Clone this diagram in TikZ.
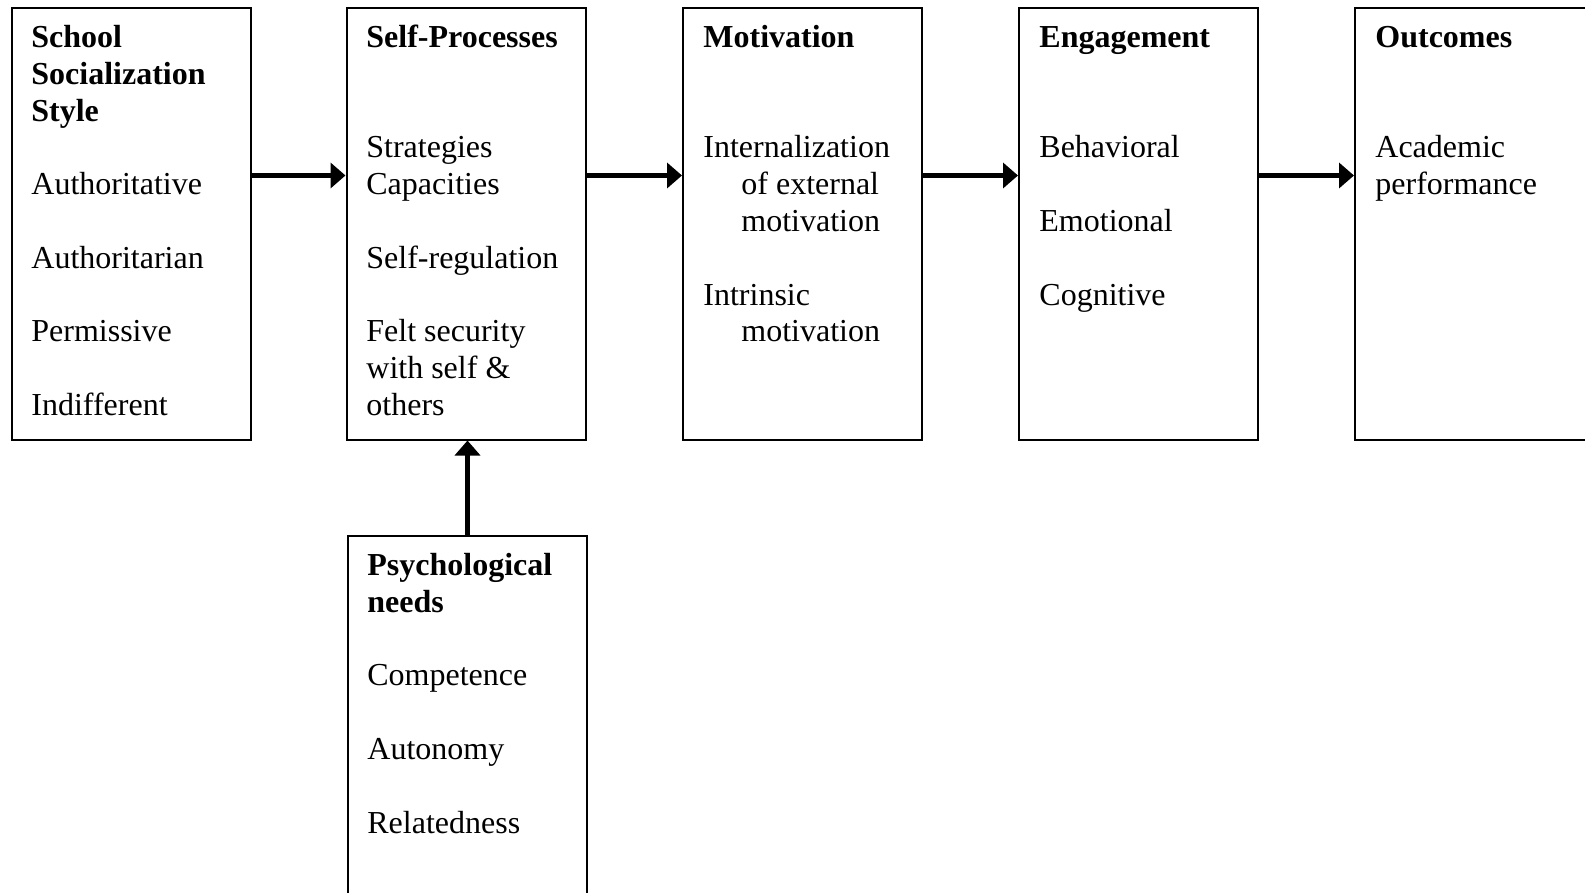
\documentclass[tikz,border=0pt]{standalone}
\usepackage{fontspec}
\setmainfont{Liberation Serif}
\usetikzlibrary{arrows.meta}
\begin{document}
\begin{tikzpicture}[x=0.5pt,y=-0.5pt,
  boxstyle/.style={draw=black,line width=1pt,rectangle,inner sep=0pt,anchor=north west,minimum width=119.5pt,minimum height=215.5pt},
  txt/.style={anchor=base west,inner sep=0pt,font=\fontsize{16pt}{18.4pt}\selectfont},
  hd/.style={txt,font=\fontsize{16pt}{18.4pt}\selectfont\bfseries},
  arr/.style={line width=2.5pt,-{Triangle[length=7.5pt,width=12.5pt]}}]
\clip (0,0) rectangle (1585,893);
\fill[white] (0,0) rectangle (1585,893);
% boxes
\node[boxstyle] (b1) at (10.5,7.5) {};
\node[boxstyle] (b2) at (345.5,7.5) {};
\node[boxstyle] (b3) at (682,7.5) {};
\node[boxstyle] (b4) at (1018,7.5) {};
\node[boxstyle] (b5) at (1354,7.5) {};
\node[boxstyle,minimum height=240pt] (p) at (347,535) {};
% box 1
\node[hd] (t1a) at (31,47.5) {School};
\node[hd] (t1b) at (31,84.3) {Socialization};
\node[hd] (t1c) at (31,121.1) {Style};
\node[txt] (t1d) at (31,194.7) {Authoritative};
\node[txt] (t1e) at (31,268.3) {Authoritarian};
\node[txt] (t1f) at (31,341.9) {Permissive};
\node[txt] (t1g) at (31,415.5) {Indifferent};
% box 2
\node[hd] (t2a) at (366,47.5) {Self-Processes};
\node[txt] (t2b) at (366,157.9) {Strategies};
\node[txt] (t2c) at (366,194.7) {Capacities};
\node[txt] (t2d) at (366,268.3) {Self-regulation};
\node[txt] (t2e) at (366,341.9) {Felt security};
\node[txt] (t2f) at (366,378.7) {with self \&};
\node[txt] (t2g) at (366,415.5) {others};
% box 3
\node[hd] (t3a) at (703,47.5) {Motivation};
\node[txt] (t3b) at (703,157.9) {Internalization};
\node[txt] (t3c) at (741,194.7) {of external};
\node[txt] (t3d) at (741,231.5) {motivation};
\node[txt] (t3e) at (703,305.1) {Intrinsic};
\node[txt] (t3f) at (741,341.9) {motivation};
% box 4
\node[hd] (t4a) at (1039,47.5) {Engagement};
\node[txt] (t4b) at (1039,157.9) {Behavioral};
\node[txt] (t4c) at (1039,231.5) {Emotional};
\node[txt] (t4d) at (1039,305.1) {Cognitive};
% box 5
\node[hd] (t5a) at (1375,47.5) {Outcomes};
\node[txt] (t5b) at (1375,157.9) {Academic};
\node[txt] (t5c) at (1375,194.7) {performance};
% psych
\node[hd] (tpa) at (367,575.5) {Psychological};
\node[hd] (tpb) at (367,612.3) {needs};
\node[txt] (tpc) at (367,685.9) {Competence};
\node[txt] (tpd) at (367,759.5) {Autonomy};
\node[txt] (tpe) at (367,833.1) {Relatedness};
% arrows
\draw[arr] ([yshift=-84pt]b1.north east) -- ([yshift=-84pt]b2.north west);
\draw[arr] ([yshift=-84pt]b2.north east) -- ([yshift=-84pt]b3.north west);
\draw[arr] ([yshift=-84pt]b3.north east) -- ([yshift=-84pt]b4.north west);
\draw[arr] ([yshift=-84pt]b4.north east) -- ([yshift=-84pt]b5.north west);
\draw[arr] (p.north) -- (p.north |- b2.south);
\end{tikzpicture}
\end{document}
